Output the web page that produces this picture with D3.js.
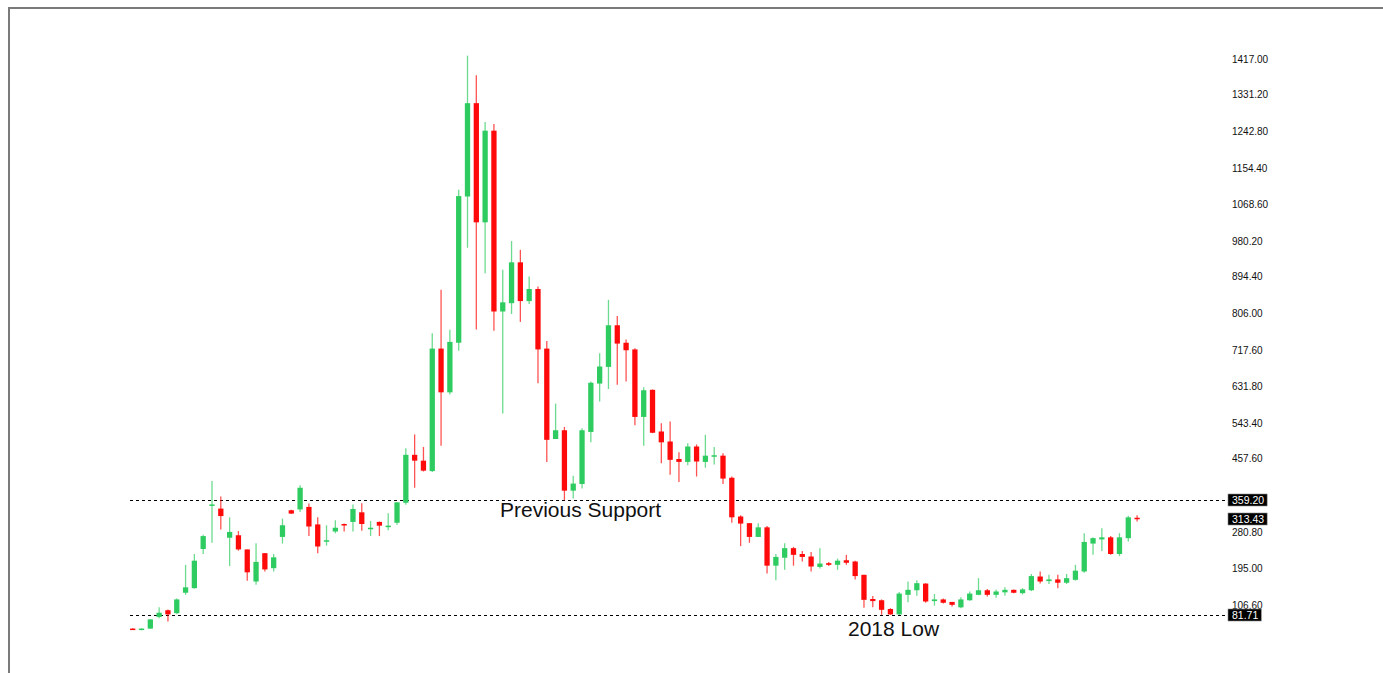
<!DOCTYPE html>
<html>
<head>
<meta charset="utf-8">
<script src="https://cdn.jsdelivr.net/npm/d3@7"></script>
<style>
  html, body { margin: 0; padding: 0; background: #fff; }
  svg { display: block; }
</style>
</head>
<body>
<svg id="drawing_region"></svg>
<script>
// candle values, one entry per period
const opens  = [50,47,50,78,94,87,136,147,241,346,338,268,274,240,163,231,195,270,334,336,342,300,259,283,301,306,329,289,306,294,
                304,352,467,453,428,722,617,736,1087,1311,1025,1245,811,831,929,836,865,722,505,526,381,397,522,638,678,778,736,720,558,623,
                523,499,457,450,487,450,463,465,412,319,303,270,293,201,220,243,229,223,198,207,203,214,211,179,121,118,97,84,131,142,
                158,116,120,114,101,118,131,142,131,137,143,135,142,175,164,168,160,167,187,254,264,269,229,267,316];
const highs  = [51,51,73,101,96,122,203,229,275,404,367,317,284,240,255,231,229,314,335,394,350,317,298,310,302,348,351,308,307,327,
                353,483,516,486,759,863,767,1103,1425,1378,1266,1261,911,980,959,895,871,740,590,534,417,531,643,711,839,800,744,723,629,624,
                543,547,473,495,492,515,486,471,415,322,303,303,296,229,255,246,236,234,243,210,218,227,213,179,128,120,99,138,163,166,
                159,133,122,114,125,139,171,145,144,149,144,147,181,187,179,179,181,203,279,269,291,272,279,321,322];
const lows   = [47,46,49,75,67,85,131,146,229,256,288,200,237,165,155,187,187,254,325,330,272,231,249,279,283,283,285,272,272,286,
                299,347,388,427,426,489,612,717,964,768,903,765,566,805,786,829,639,450,505,358,362,386,497,595,625,635,643,538,489,519,
                447,419,402,442,415,436,444,397,304,248,256,270,182,166,191,201,211,187,194,200,191,203,168,100,101,83,83,83,113,129,
                112,105,110,103,99,117,130,127,124,129,135,132,140,158,157,147,157,165,184,227,236,227,224,259,307];
const closes = [48,50,72,88,84,120,149,213,272,348,320,282,240,185,210,192,221,298,326,388,295,247,262,292,299,337,301,292,297,297,
                353,467,453,429,722,617,738,1088,1311,1025,1245,811,833,929,836,865,720,503,526,381,398,526,640,679,778,734,718,558,622,520,
                497,455,450,487,451,465,466,410,317,302,270,293,201,222,243,227,222,199,206,203,213,208,176,119,116,95,84,134,143,159,
                115,120,112,107,120,134,142,131,139,143,136,144,176,163,168,160,171,189,258,267,269,229,269,317,313.43];

// price scale labels on the right (369.20 sits under the 359.20 box, left out)
const tickValues = [1417.00,1331.20,1242.80,1154.40,1068.60,980.20,894.40,806.00,717.60,631.80,543.40,457.60,280.80,195.00,106.60];

// horizontal levels and their notes
const levelValues = [359.20, 81.71];
const levelNotes  = ['Previous Support', '2018 Low'];
const lastPrice = 313.43;

class CandleChart {

    constructor( config, data ) {
        this.config = {
            parent: config.parent,
            width: config.width || 1383,
            height: config.height || 673,
            plot_left: config.plot_left || 128.3,
            plot_right: config.plot_right || 1141.5,
            line_end: config.line_end || 1228
        };
        this.data = data;
        this.init();
    }

    init() {
        let self = this;
        self.svg = d3.select( self.config.parent )
            .attr( 'width', self.config.width )
            .attr( 'height', self.config.height );

        // grey frame on top and left
        self.svg.append('path')
            .attr('d', `M9,${self.config.height} V8 H${self.config.width}`)
            .attr('fill', 'none')
            .attr('stroke', '#7a7a7a')
            .attr('stroke-width', 2);

        self.chart = self.svg.append('g');
    }

    update() {
        let self = this;
        self.xscale = d3.scaleBand()
            .domain( self.data.map( d => d.index ) )
            .range( [self.config.plot_left, self.config.plot_right] )
            .paddingInner( 0.4 )
            .paddingOuter( 0.2 );
        // 1417 sits at y=59, 106.6 at y=605
        self.yscale = d3.scaleLinear()
            .domain( [106.6, 1417] )
            .range( [605, 59] );
        self.render();
    }

    render() {
        let self = this;
        const x = self.xscale, y = self.yscale;
        const bw = x.bandwidth();

        // dotted level lines
        self.chart.selectAll('.level')
            .data( levelValues )
            .enter().append('line')
            .attr('x1', 130)
            .attr('x2', self.config.line_end)
            .attr('y1', d => Math.round(y(d)) + 0.5)
            .attr('y2', d => Math.round(y(d)) + 0.5)
            .attr('stroke', '#000')
            .attr('stroke-width', 1)
            .attr('stroke-dasharray', '3,3');

        const candles = self.chart.selectAll('.candle')
            .data( self.data )
            .enter().append('g');

        candles.append('line')
            .attr('x1', d => x(d.index) + bw / 2)
            .attr('x2', d => x(d.index) + bw / 2)
            .attr('y1', d => y(d.high))
            .attr('y2', d => y(d.low))
            .attr('stroke', d => d.close >= d.open ? '#2ecc60' : '#ff0a0a')
            .attr('stroke-opacity', 0.7)
            .attr('stroke-width', 1.3);

        candles.append('rect')
            .attr('x', d => x(d.index))
            .attr('width', bw)
            .attr('y', d => y(Math.max(d.open, d.close)))
            .attr('height', d => Math.max(1.5, Math.abs(y(d.open) - y(d.close))))
            .attr('fill', d => d.close >= d.open ? '#2ecc60' : '#ff0a0a');

        // right price axis
        const axis = d3.axisRight( y )
            .tickValues( tickValues )
            .tickSize( 0 )
            .tickPadding( 0 )
            .tickFormat( d => d.toFixed(2) );
        const ag = self.svg.append('g')
            .attr('transform', 'translate(1232,0)')
            .call( axis );
        ag.select('.domain').remove();
        ag.selectAll('text')
            .attr('fill', '#111')
            .style('font-family', '"Liberation Sans", Arial, sans-serif')
            .style('font-size', '10px');

        // black price boxes
        const boxes = self.svg.selectAll('.pbox')
            .data( levelValues.concat([lastPrice]) )
            .enter().append('g')
            .attr('transform', d => `translate(1228,${Math.round(y(d))})`);
        boxes.append('text')
            .attr('x', 4)
            .attr('dy', '0.35em')
            .attr('fill', '#fff')
            .style('font-family', '"Liberation Sans", Arial, sans-serif')
            .style('font-size', '10.5px')
            .text( d => d.toFixed(2) );
        boxes.insert('rect', 'text')
            .attr('x', 0)
            .attr('y', -6)
            .attr('height', 12)
            .attr('width', function(d) { return this.parentNode.querySelector('text').getComputedTextLength() + 7; })
            .attr('fill', '#000')
            .attr('stroke', '#888')
            .attr('stroke-width', 0.6);

        // notes under the levels
        const notePos = [ {x: 500, y: 517}, {x: 848, y: 636} ];
        self.svg.selectAll('.note')
            .data( levelNotes )
            .enter().append('text')
            .attr('x', (d, i) => notePos[i].x)
            .attr('y', (d, i) => notePos[i].y)
            .attr('fill', '#111')
            .style('font-family', '"Liberation Sans", Arial, sans-serif')
            .style('font-size', '21px')
            .text( d => d );
    }
}

const data = d3.range( opens.length ).map( i => ({
    index: i,
    open: opens[i],
    high: highs[i],
    low: lows[i],
    close: closes[i]
}));

const chart = new CandleChart( { parent: '#drawing_region' }, data );
chart.update();
</script>
</body>
</html>
